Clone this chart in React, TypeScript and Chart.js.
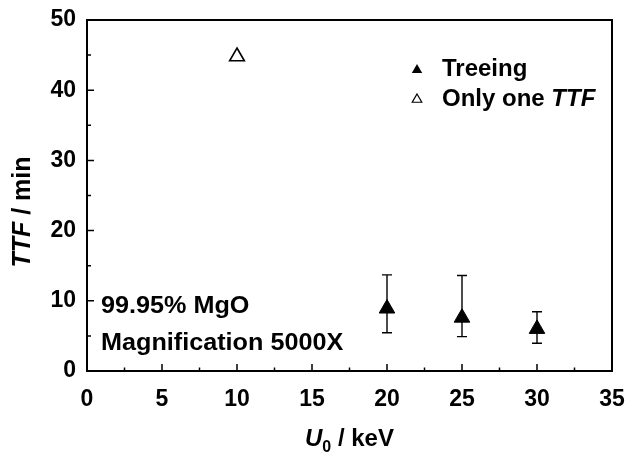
import React, { useEffect, useRef } from "react";
import { Chart, registerables } from "chart.js";

Chart.register(...registerables);

const treeingX = [20, 25, 30];
const treeingY = [8.9, 7.6, 6.0];
const treeingErrHigh = [13.7, 13.6, 8.45];
const treeingErrLow = [5.45, 4.9, 3.95];
const singleX = [10];
const singleY = [44.8];

const xTickLabels = ["0", "5", "10", "15", "20", "25", "30", "35"];
const yTickLabels = ["0", "10", "20", "30", "40", "50"];

const FONT = '"Liberation Sans", Arial, Helvetica, sans-serif';

const decorPlugin = {
  id: "decor",
  beforeDatasetsDraw(chart: any) {
    const ctx = chart.ctx;
    const xs = chart.scales.x;
    const ys = chart.scales.y;
    ctx.save();
    ctx.strokeStyle = "#000";
    ctx.lineWidth = 1.4;
    for (let i = 0; i < treeingX.length; i++) {
      const px = xs.getPixelForValue(treeingX[i]);
      const pHi = ys.getPixelForValue(treeingErrHigh[i]);
      const pLo = ys.getPixelForValue(treeingErrLow[i]);
      ctx.beginPath();
      ctx.moveTo(px, pHi);
      ctx.lineTo(px, pLo);
      ctx.moveTo(px - 5, pHi);
      ctx.lineTo(px + 5, pHi);
      ctx.moveTo(px - 5, pLo);
      ctx.lineTo(px + 5, pLo);
      ctx.stroke();
    }
    ctx.restore();
  },
  afterDraw(chart: any) {
    const ctx = chart.ctx;
    const xs = chart.scales.x;
    const ys = chart.scales.y;
    const a = chart.chartArea;
    ctx.save();
    // frame
    ctx.strokeStyle = "#000";
    ctx.lineWidth = 2;
    ctx.strokeRect(a.left, a.top, a.right - a.left, a.bottom - a.top);
    // inward ticks
    ctx.lineWidth = 1.5;
    ctx.beginPath();
    for (let v = ys.min; v <= ys.max + 1e-9; v += 5) {
      const py = ys.getPixelForValue(v);
      const len = Math.abs(v % 10) < 1e-9 ? 7 : 4;
      ctx.moveTo(a.left, py);
      ctx.lineTo(a.left + len, py);
    }
    for (let v = xs.min; v <= xs.max + 1e-9; v += 2.5) {
      const px = xs.getPixelForValue(v);
      const len = Math.abs(v % 5) < 1e-9 ? 7 : 3.5;
      ctx.moveTo(px, a.bottom);
      ctx.lineTo(px, a.bottom - len);
    }
    ctx.stroke();

    ctx.fillStyle = "#000";
    ctx.textBaseline = "alphabetic";
    // Y title
    ctx.save();
    ctx.translate(30, 212);
    ctx.rotate(-Math.PI / 2);
    ctx.font = `italic bold 25px ${FONT}`;
    const t1 = "TTF";
    const w1 = ctx.measureText(t1).width;
    ctx.font = `bold 25px ${FONT}`;
    const t2 = " / min";
    const w2 = ctx.measureText(t2).width;
    const sx = -(w1 + w2) / 2;
    ctx.textAlign = "left";
    ctx.font = `italic bold 25px ${FONT}`;
    ctx.fillText(t1, sx, 0);
    ctx.font = `bold 25px ${FONT}`;
    ctx.fillText(t2, sx + w1, 0);
    ctx.restore();

    // X title
    ctx.textAlign = "left";
    ctx.font = `italic bold 24px ${FONT}`;
    const u = "U";
    const wu = ctx.measureText(u).width;
    ctx.font = `bold 16px ${FONT}`;
    const sub = "0";
    const ws = ctx.measureText(sub).width;
    ctx.font = `bold 24px ${FONT}`;
    const rest = " / keV";
    const wr = ctx.measureText(rest).width;
    const cx = (a.left + a.right) / 2;
    const x0 = cx - (wu + ws + wr) / 2;
    const by = 446;
    ctx.font = `italic bold 24px ${FONT}`;
    ctx.fillText(u, x0, by);
    ctx.font = `bold 16px ${FONT}`;
    ctx.fillText(sub, x0 + wu, by + 6);
    ctx.font = `bold 24px ${FONT}`;
    ctx.fillText(rest, x0 + wu + ws, by);

    // annotation (slightly wide lettering as in the reference)
    ctx.save();
    ctx.translate(101, 0);
    ctx.scale(1.05, 1);
    ctx.font = `bold 24px ${FONT}`;
    ctx.fillText("99.95% MgO", 0, 313);
    ctx.fillText("Magnification 5000X", 0, 350);
    ctx.restore();

    // legend
    const drawTri = (x: number, y: number, r: number, fill: boolean) => {
      ctx.beginPath();
      ctx.moveTo(x, y - r);
      ctx.lineTo(x + Math.sin((2 * Math.PI) / 3) * r, y + r / 2);
      ctx.lineTo(x - Math.sin((2 * Math.PI) / 3) * r, y + r / 2);
      ctx.closePath();
      if (fill) {
        ctx.fillStyle = "#000";
        ctx.fill();
      } else {
        ctx.lineWidth = 1.2;
        ctx.strokeStyle = "#000";
        ctx.stroke();
      }
    };
    drawTri(417, 70, 6, true);
    drawTri(417, 99.5, 5.5, false);
    ctx.fillStyle = "#000";
    ctx.font = `bold 24px ${FONT}`;
    ctx.fillText("Treeing", 442, 76);
    const o1 = "Only one ";
    ctx.fillText(o1, 442, 106);
    const wo = ctx.measureText(o1).width;
    ctx.font = `italic bold 24px ${FONT}`;
    ctx.fillText("TTF", 442 + wo, 106);
    ctx.restore();
  },
};

const zeroPad = (s: any) => {
  s.paddingLeft = 0;
  s.paddingRight = 0;
  s.paddingTop = 0;
  s.paddingBottom = 0;
};

export default function App() {
  const ref = useRef<HTMLCanvasElement | null>(null);
  useEffect(() => {
    if (!ref.current) return;
    const chart = new Chart(ref.current, {
      type: "scatter",
      data: {
        datasets: [
          {
            label: "Treeing",
            data: treeingX.map((x, i) => ({ x, y: treeingY[i] })),
            pointStyle: "triangle",
            pointRadius: 9,
            backgroundColor: "#000",
            borderColor: "#000",
            borderWidth: 1,
          },
          {
            label: "Only one TTF",
            data: singleX.map((x, i) => ({ x, y: singleY[i] })),
            pointStyle: "triangle",
            pointRadius: 8.5,
            backgroundColor: "#fff",
            borderColor: "#000",
            borderWidth: 1.6,
          },
        ],
      },
      options: {
        animation: false,
        responsive: false,
        events: [],
        layout: { padding: { left: 0, top: 20, right: 18, bottom: 0 } },
        plugins: { legend: { display: false }, tooltip: { enabled: false } },
        scales: {
          x: {
            type: "linear",
            min: 0,
            max: 35,
            grid: { display: false, drawTicks: false },
            border: { display: false },
            ticks: {
              stepSize: 5,
              padding: 15,
              color: "#000",
              font: { family: FONT, size: 23, weight: "bold" },
              maxRotation: 0,
              callback: (v: any, i: number) => xTickLabels[i] ?? String(v),
            },
            afterFit: (s: any) => {
              s.height = 81;
              zeroPad(s);
            },
          },
          y: {
            type: "linear",
            min: 0,
            max: 50,
            grid: { display: false, drawTicks: false },
            border: { display: false },
            ticks: {
              stepSize: 10,
              padding: 11,
              color: "#000",
              font: { family: FONT, size: 23, weight: "bold" },
              callback: (v: any, i: number) => yTickLabels[i] ?? String(v),
            },
            afterFit: (s: any) => {
              s.width = 87;
              zeroPad(s);
            },
          },
        },
      },
      plugins: [decorPlugin],
    });
    return () => chart.destroy();
  }, []);
  return (
    <div style={{ position: "fixed", left: 0, top: 0, width: 630, height: 452, background: "#fff" }}>
      <canvas ref={ref} width={630} height={452} style={{ display: "block" }} />
    </div>
  );
}
